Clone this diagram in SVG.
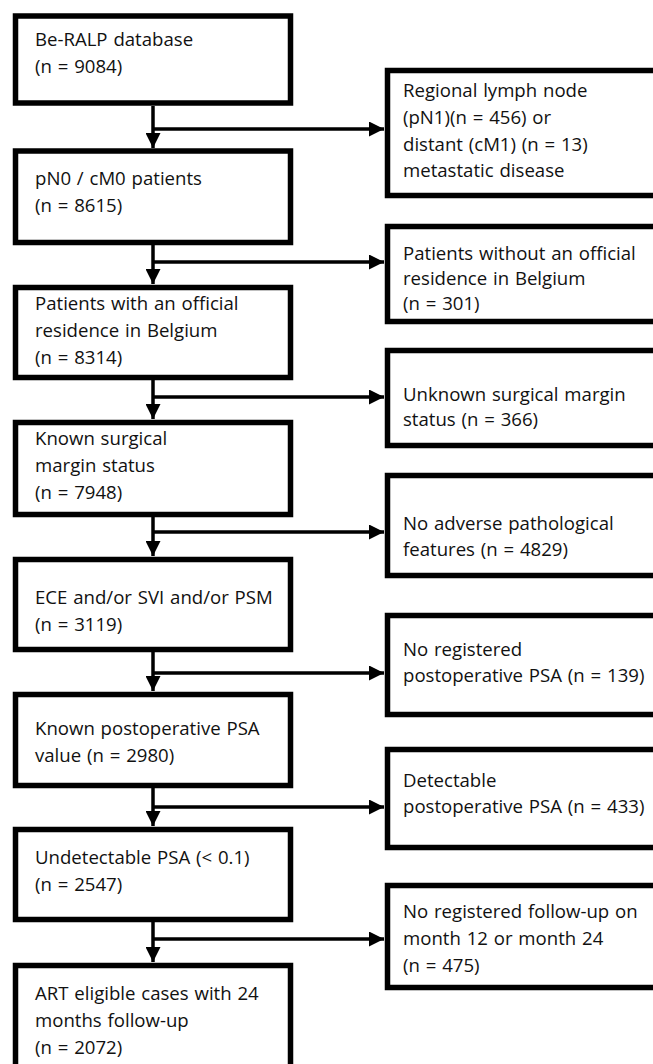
<svg xmlns="http://www.w3.org/2000/svg" width="653" height="1064" viewBox="0 0 653 1064">
<style>
.box{fill:#fff;stroke:#000;stroke-width:5.5}
.t{font-family:"Open Sans","Liberation Sans",Arial,sans-serif;font-size:18.6px;word-spacing:1px;fill:#111}
.c{fill:none;stroke:#000;stroke-width:3.5}
</style>
<defs>
<marker id="ah" markerUnits="userSpaceOnUse" markerWidth="16" markerHeight="15" refX="15" refY="7.5" orient="auto">
<path d="M0,0 L15,7.5 L0,15 Z" fill="#000"/>
</marker>
</defs>
<rect width="653" height="1064" fill="#fff"/>
<g id="connectors">
<path class="c" d="M153,106 V148" marker-end="url(#ah)"/>
<path class="c" d="M153,129 H384" marker-end="url(#ah)"/>
<path class="c" d="M153,244 V284" marker-end="url(#ah)"/>
<path class="c" d="M153,262 H384" marker-end="url(#ah)"/>
<path class="c" d="M153,379 V419" marker-end="url(#ah)"/>
<path class="c" d="M153,397 H384" marker-end="url(#ah)"/>
<path class="c" d="M153,516 V556" marker-end="url(#ah)"/>
<path class="c" d="M153,532 H384" marker-end="url(#ah)"/>
<path class="c" d="M153,651 V691" marker-end="url(#ah)"/>
<path class="c" d="M153,673 H384" marker-end="url(#ah)"/>
<path class="c" d="M153,787 V826" marker-end="url(#ah)"/>
<path class="c" d="M153,807 H384" marker-end="url(#ah)"/>
<path class="c" d="M153,921 V962" marker-end="url(#ah)"/>
<path class="c" d="M153,939 H384" marker-end="url(#ah)"/>
</g>
<g id="n1"><rect class="box" x="15.5" y="16" width="275" height="87"/>
<text class="t" x="35" y="46">Be-RALP database</text><text class="t" x="35" y="73">(n = 9084)</text></g>
<g id="n2"><rect class="box" x="15.5" y="151" width="275" height="91.5"/>
<text class="t" x="35" y="185">pN0 / cM0 patients</text><text class="t" x="35" y="212">(n = 8615)</text></g>
<g id="n3"><rect class="box" x="15.5" y="287.5" width="275" height="90"/>
<text class="t" x="35" y="310">Patients with an official</text><text class="t" x="35" y="337">residence in Belgium</text><text class="t" x="35" y="364">(n = 8314)</text></g>
<g id="n4"><rect class="box" x="15.5" y="422.5" width="275" height="92"/>
<text class="t" x="35" y="445">Known surgical</text><text class="t" x="35" y="472">margin status</text><text class="t" x="35" y="499">(n = 7948)</text></g>
<g id="n5"><rect class="box" x="15.5" y="559.5" width="275" height="90"/>
<text class="t" x="35" y="604">ECE and/or SVI and/or PSM</text><text class="t" x="35" y="631">(n = 3119)</text></g>
<g id="n6"><rect class="box" x="15.5" y="694.5" width="275" height="91"/>
<text class="t" x="35" y="735">Known postoperative PSA</text><text class="t" x="35" y="762">value (n = 2980)</text></g>
<g id="n7"><rect class="box" x="15.5" y="829.5" width="275" height="90"/>
<text class="t" x="35" y="864">Undetectable PSA (&lt; 0.1)</text><text class="t" x="35" y="891">(n = 2547)</text></g>
<g id="n8"><rect class="box" x="15.5" y="965.5" width="275" height="110"/>
<text class="t" x="35" y="1000">ART eligible cases with 24</text><text class="t" x="35" y="1027">months follow-up</text><text class="t" x="35" y="1054">(n = 2072)</text></g>
<g id="r1"><rect class="box" x="387.5" y="70.5" width="280" height="125"/>
<text class="t" x="403" y="97">Regional lymph node</text><text class="t" x="403" y="124">(pN1)(n = 456) or</text><text class="t" x="403" y="151">distant (cM1) (n = 13)</text><text class="t" x="403" y="177">metastatic disease</text></g>
<g id="r2"><rect class="box" x="387.5" y="226.5" width="280" height="95"/>
<text class="t" x="403" y="260">Patients without an official</text><text class="t" x="403" y="285">residence in Belgium</text><text class="t" x="403" y="310">(n = 301)</text></g>
<g id="r3"><rect class="box" x="387.5" y="350.5" width="280" height="95"/>
<text class="t" x="403" y="401">Unknown surgical margin</text><text class="t" x="403" y="426">status (n = 366)</text></g>
<g id="r4"><rect class="box" x="387.5" y="475.5" width="280" height="100"/>
<text class="t" x="403" y="530">No adverse pathological</text><text class="t" x="403" y="556">features (n = 4829)</text></g>
<g id="r5"><rect class="box" x="387.5" y="615.5" width="280" height="99"/>
<text class="t" x="403" y="656">No registered</text><text class="t" x="403" y="682">postoperative PSA (n = 139)</text></g>
<g id="r6"><rect class="box" x="387.5" y="749.5" width="280" height="98"/>
<text class="t" x="403" y="787">Detectable</text><text class="t" x="403" y="813">postoperative PSA (n = 433)</text></g>
<g id="r7"><rect class="box" x="387.5" y="885.5" width="280" height="102"/>
<text class="t" x="403" y="918">No registered follow-up on</text><text class="t" x="403" y="945">month 12 or month 24</text><text class="t" x="403" y="972">(n = 475)</text></g>
</svg>
